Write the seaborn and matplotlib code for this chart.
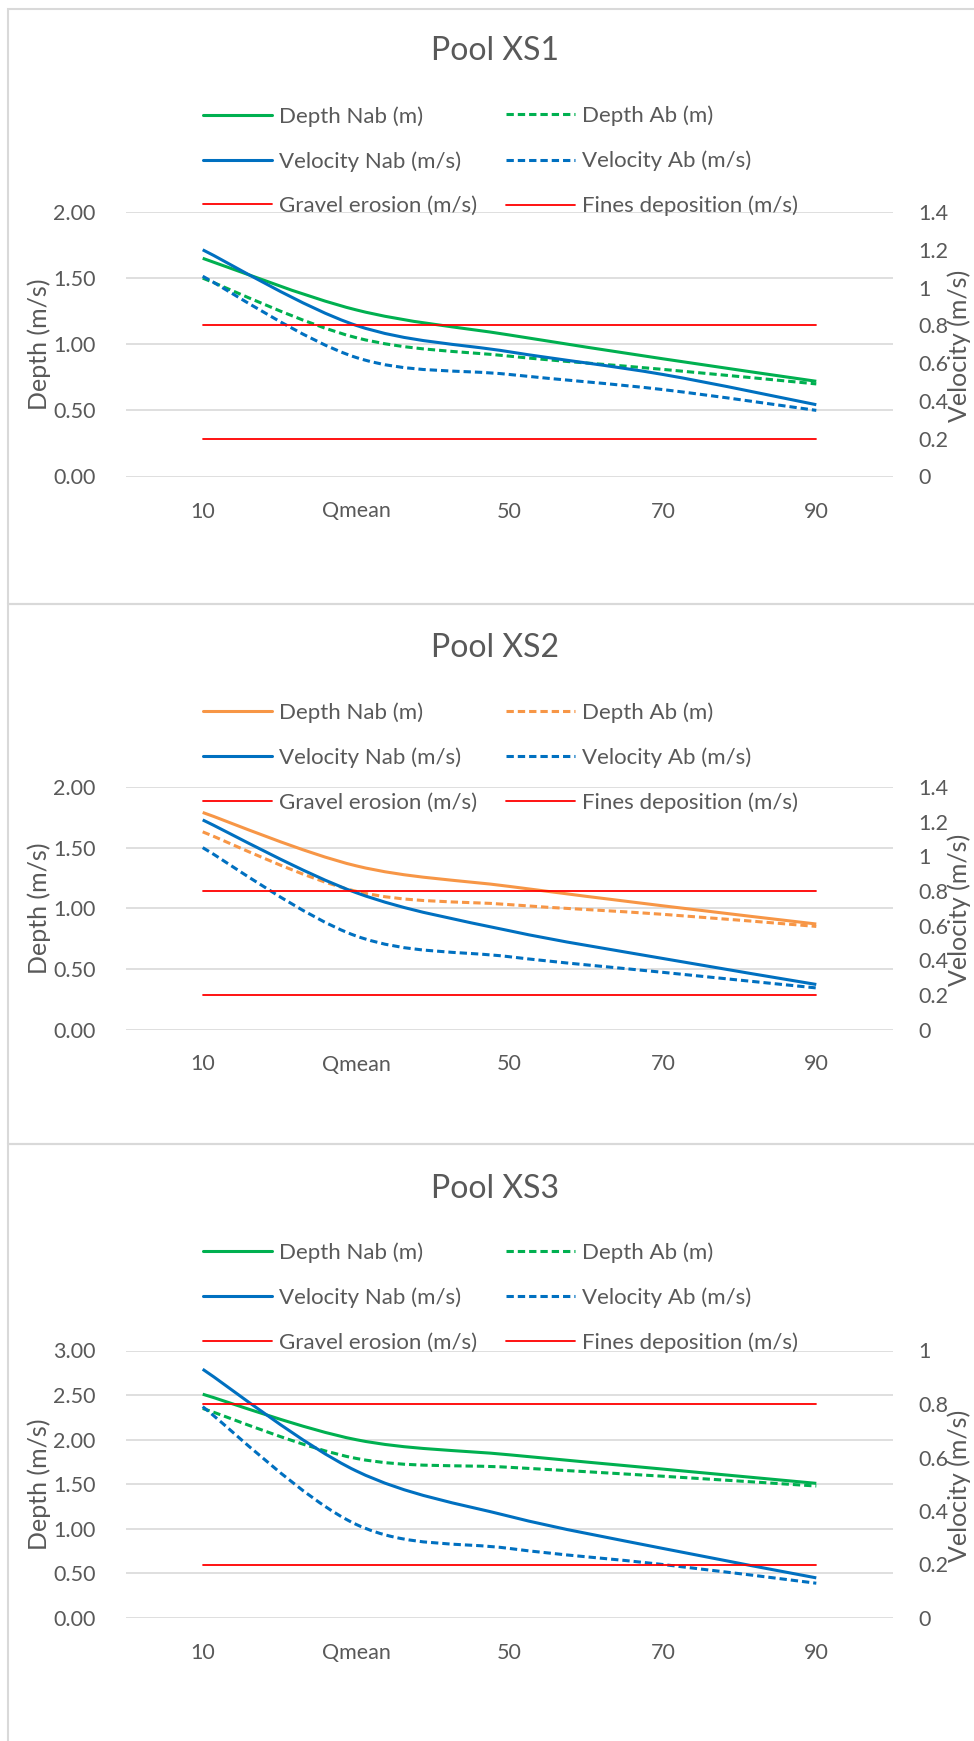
import numpy as np
import matplotlib
matplotlib.use("Agg")
import matplotlib.pyplot as plt
from matplotlib.path import Path
from matplotlib.patches import PathPatch, Rectangle
from matplotlib.lines import Line2D
import seaborn as sns

# ---- data -------------------------------------------------------------
categories = ["10", "Qmean", "50", "70", "90"]

xs1_depth_nab = [1.65, 1.26, 1.07, 0.89, 0.72]
xs1_depth_ab = [1.50, 1.05, 0.91, 0.81, 0.70]
xs1_vel_nab = [1.20, 0.80, 0.66, 0.54, 0.38]
xs1_vel_ab = [1.06, 0.63, 0.54, 0.46, 0.35]

xs2_depth_nab = [1.79, 1.35, 1.18, 1.02, 0.87]
xs2_depth_ab = [1.63, 1.14, 1.03, 0.95, 0.85]
xs2_vel_nab = [1.21, 0.79, 0.57, 0.41, 0.26]
xs2_vel_ab = [1.05, 0.54, 0.42, 0.33, 0.24]

xs3_depth_nab = [2.51, 2.00, 1.83, 1.67, 1.51]
xs3_depth_ab = [2.35, 1.79, 1.69, 1.59, 1.48]
xs3_vel_nab = [0.93, 0.55, 0.38, 0.26, 0.15]
xs3_vel_ab = [0.79, 0.35, 0.26, 0.20, 0.13]

gravel_erosion = [0.8, 0.8, 0.8, 0.8, 0.8]
fines_deposition = [0.2, 0.2, 0.2, 0.2, 0.2]

depth_ticks_2 = [0.0, 0.5, 1.0, 1.5, 2.0]
depth_ticks_3 = [0.0, 0.5, 1.0, 1.5, 2.0, 2.5, 3.0]
vel_ticks_14 = [0.0, 0.2, 0.4, 0.6, 0.8, 1.0, 1.2, 1.4]
vel_labels_14 = ["0", "0.2", "0.4", "0.6", "0.8", "1", "1.2", "1.4"]
vel_ticks_10 = [0.0, 0.2, 0.4, 0.6, 0.8, 1.0]
vel_labels_10 = ["0", "0.2", "0.4", "0.6", "0.8", "1"]

# ---- style ------------------------------------------------------------
sns.set_theme(style="white")
plt.rcParams["font.family"] = ["Lato", "DejaVu Sans"]

TEXT = "#595959"
GRID = "#D9D9D9"
RED = "#FF0000"
BLUE = "#0070C0"
GREEN = "#00B050"
ORANGE = "#F79646"
LW = 2.2
RED_LW = 1.3
DASH = (0, (2.4, 1.3))
TICK_FS = 15.5
LEGEND_FS = 16
AXLABEL_FS = 18

W, H = 974, 1741
fig = plt.figure(figsize=(W / 100, H / 100), dpi=100)


def fx(x):
    return x / W


def fy(y):
    return 1 - y / H


def smooth_path(xs, ys):
    """Cubic Bezier path through the points (spreadsheet-style smoothed line)."""
    p = np.column_stack([xs, ys]).astype(float)
    n = len(p)
    verts = [p[0]]
    codes = [Path.MOVETO]
    for i in range(n - 1):
        p0 = p[i - 1] if i > 0 else p[i]
        p3 = p[i + 2] if i + 2 < n else p[i + 1]
        c1 = p[i] + (p[i + 1] - p0) / 6.0
        c2 = p[i + 1] - (p3 - p[i]) / 6.0
        verts += [c1, c2, p[i + 1]]
        codes += [Path.CURVE4] * 3
    return Path(verts, codes)


def draw_series(ax, values, color, dashed):
    x = np.arange(len(categories))
    patch = PathPatch(smooth_path(x, values), fill=False, edgecolor=color,
                      linewidth=LW, linestyle=DASH if dashed else "-",
                      capstyle="butt", joinstyle="round")
    ax.add_patch(patch)


def panel(title, box_top, box_bottom, ax_top, ax_bottom, depth_color,
          depth_nab, depth_ab, vel_nab, vel_ab,
          depth_max, depth_ticks, vel_max, vel_ticks, vel_labels,
          title_y, legend_mid):
    # chart-area border
    fig.add_artist(Rectangle((fx(8), fy(box_bottom)), fx(1000), fy(box_top) - fy(box_bottom),
                             transform=fig.transFigure, fill=False,
                             edgecolor=GRID, linewidth=1.5, zorder=0))

    left, right = 126, 893
    ax = fig.add_axes([fx(left), fy(ax_bottom), fx(right) - fx(left), fy(ax_top) - fy(ax_bottom)])
    ax2 = ax.twinx()
    x = np.arange(len(categories))

    for a in (ax, ax2):
        a.set_facecolor("none")
        for s in a.spines.values():
            s.set_visible(False)
        a.tick_params(length=0, colors=TEXT, labelsize=TICK_FS)
    ax.set_xlim(-0.5, len(categories) - 0.5)
    ax.set_xticks(x)
    ax.set_xticklabels(categories)
    ax.tick_params(axis="x", pad=18)
    ax.set_ylim(0, depth_max)
    ax.set_yticks(depth_ticks)
    ax.set_yticklabels([f"{t:.2f}" for t in depth_ticks])
    ax.tick_params(axis="y", pad=22)
    ax.grid(axis="y", color=GRID, linewidth=1.2)
    ax.grid(axis="x", visible=False)
    ax.set_axisbelow(True)

    ax2.set_ylim(0, vel_max)
    ax2.set_yticks(vel_ticks)
    ax2.set_yticklabels(vel_labels)
    ax2.tick_params(axis="y", pad=18)
    ax2.grid(False)

    # thresholds (velocity axis)
    sns.lineplot(x=x, y=gravel_erosion, ax=ax2, color=RED, linewidth=RED_LW, legend=False)
    sns.lineplot(x=x, y=fines_deposition, ax=ax2, color=RED, linewidth=RED_LW, legend=False)

    draw_series(ax, depth_nab, depth_color, False)
    draw_series(ax, depth_ab, depth_color, True)
    draw_series(ax2, vel_nab, BLUE, False)
    draw_series(ax2, vel_ab, BLUE, True)

    mid = (ax_top + ax_bottom) / 2
    fig.text(fx(495), fy(title_y), title, ha="center", va="center",
             fontsize=23, color=TEXT)
    fig.text(fx(39), fy(mid), "Depth (m/s)", rotation=90,
             ha="center", va="center", fontsize=AXLABEL_FS, color=TEXT)
    fig.text(fx(947), fy(mid + 2), "Velocity (m/s)", rotation=90,
             ha="left", va="center", fontsize=AXLABEL_FS, color=TEXT)

    # legend: two columns, three rows
    cols = [
        [("Depth Nab (m)", depth_color, "-", LW),
         ("Velocity Nab (m/s)", BLUE, "-", LW),
         ("Gravel erosion (m/s)", RED, "-", RED_LW)],
        [("Depth Ab (m)", depth_color, DASH, LW),
         ("Velocity Ab (m/s)", BLUE, DASH, LW),
         ("Fines deposition (m/s)", RED, "-", RED_LW)],
    ]
    for cx, col in zip((203, 506), cols):
        handles = [Line2D([], [], color=c, linestyle=ls, linewidth=lw, dash_capstyle="butt")
                   for _, c, ls, lw in col]
        labels = [lab for lab, _, _, _ in col]
        fig.legend(handles, labels, loc="center left",
                   bbox_to_anchor=(fx(cx), fy(legend_mid)),
                   bbox_transform=fig.transFigure, frameon=False,
                   fontsize=LEGEND_FS, handlelength=3.1, handletextpad=0.32,
                   labelspacing=1.1, borderpad=0, borderaxespad=0,
                   labelcolor=TEXT)
    return ax, ax2


panel("Pool XS1", 8.5, 604, 212, 476.5, GREEN,
      xs1_depth_nab, xs1_depth_ab, xs1_vel_nab, xs1_vel_ab,
      2.0, depth_ticks_2, 1.4, vel_ticks_14, vel_labels_14,
      51, 161)
panel("Pool XS2", 604, 1144, 787, 1029.5, ORANGE,
      xs2_depth_nab, xs2_depth_ab, xs2_vel_nab, xs2_vel_ab,
      2.0, depth_ticks_2, 1.4, vel_ticks_14, vel_labels_14,
      648, 757.5)
panel("Pool XS3", 1144, 1800, 1350.5, 1618, GREEN,
      xs3_depth_nab, xs3_depth_ab, xs3_vel_nab, xs3_vel_ab,
      3.0, depth_ticks_3, 1.0, vel_ticks_10, vel_labels_10,
      1189, 1297.5)

fig.savefig("out.png", dpi=100, facecolor="white")
